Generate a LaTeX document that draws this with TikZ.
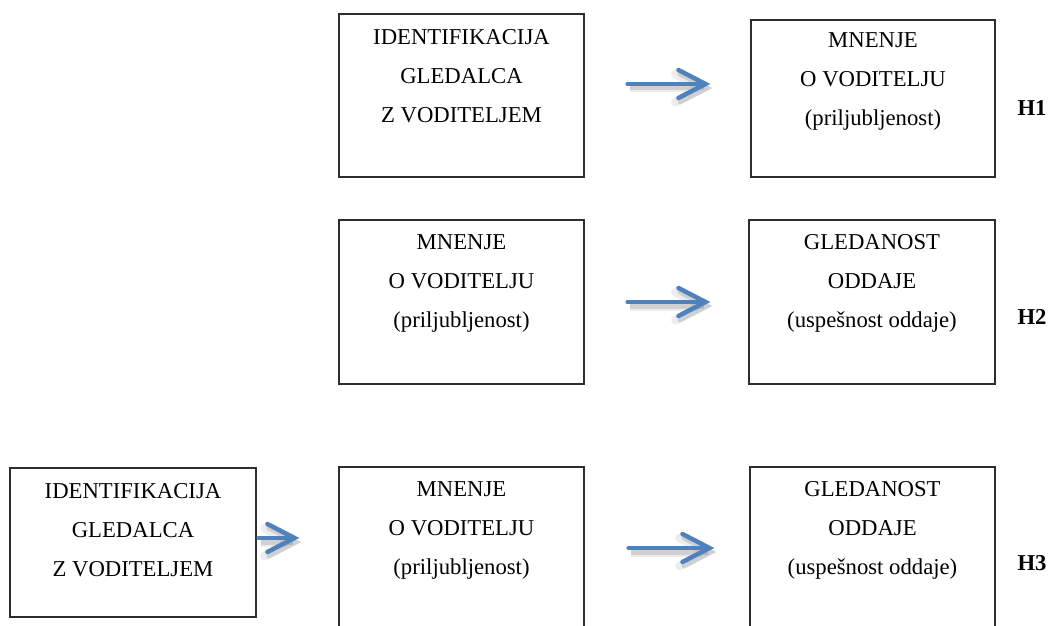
\documentclass[tikz,border=0pt]{standalone}
\usepackage{fontspec}
\setmainfont{Liberation Serif}
\usetikzlibrary{arrows.meta,calc}
\definecolor{arrblue}{RGB}{79,129,189}
\definecolor{boxline}{RGB}{45,45,45}
\tikzset{
  box/.style={draw=boxline, line width=1.3pt, rectangle, inner sep=0pt, fill=white},
  boxtext/.style={anchor=north, inner sep=0pt, align=center, font=\fontsize{22.7}{39}\selectfont, text=black},
  hlab/.style={inner sep=0pt, font=\fontsize{22.7}{26}\selectfont\bfseries, text=black},
  arr/.style={draw=arrblue, line width=4.5pt, line cap=round,
    -{Straight Barb[length=27pt,width=28pt,line cap=round]},
    preaction={draw=black, opacity=0.07, line width=9pt, transform canvas={shift={(2pt,-4pt)}}},
    preaction={draw=black, opacity=0.12, line width=5pt, transform canvas={shift={(2pt,-4pt)}}}}
}
\begin{document}
\begin{tikzpicture}[x=1pt,y=-1pt]
\path[use as bounding box] (0,0) rectangle (1050,626);
\clip (0,0) rectangle (1050,626);
\fill[white] (0,0) rectangle (1050,626);

% Row 1
\node[box, minimum width=245pt, minimum height=163pt] (A1) at (461.5,95.5) {};
\node[box, minimum width=244pt, minimum height=157pt] (B1) at (873,98.5) {};
\node[boxtext] (tA1) at ($(A1.north)+(0,16)$) {IDENTIFIKACIJA\\GLEDALCA\\Z VODITELJEM};
\node[boxtext] (tB1) at ($(B1.north)+(0,13)$) {MNENJE\\O VODITELJU\\(priljubljenost)};
\node[hlab] (H1) at (1032,108) {H1};
\draw[arr] ($(A1.east)+(43,-11.5)$) -- ($(B1.west)+(-40,-14.5)$);

% Row 2
\node[box, minimum width=245pt, minimum height=164pt] (A2) at (461.5,302) {};
\node[box, minimum width=246pt, minimum height=164pt] (B2) at (872,302) {};
\node[boxtext] (tA2) at ($(A2.north)+(0,15)$) {MNENJE\\O VODITELJU\\(priljubljenost)};
\node[boxtext] (tB2) at ($(B2.north)+(0,15)$) {GLEDANOST\\ODDAJE\\(uspešnost oddaje)};
\node[hlab] (H2) at (1032,317) {H2};
\draw[arr] ($(A2.east)+(43,0)$) -- ($(B2.west)+(-38,0)$);

% Row 3
\node[box, minimum width=246pt, minimum height=149pt] (L3) at (133,542.5) {};
\node[box, minimum width=245pt, minimum height=173pt] (A3) at (461.5,553.5) {};
\node[box, minimum width=245pt, minimum height=173pt] (B3) at (872.5,553.5) {};
\node[boxtext] (tL3) at ($(L3.north)+(0,15.5)$) {IDENTIFIKACIJA\\GLEDALCA\\Z VODITELJEM};
\node[boxtext] (tA3) at ($(A3.north)+(0,15)$) {MNENJE\\O VODITELJU\\(priljubljenost)};
\node[boxtext] (tB3) at ($(B3.north)+(0,15)$) {GLEDANOST\\ODDAJE\\(uspešnost oddaje)};
\node[hlab] (H3) at (1032,563) {H3};
\draw[arr] ($(L3.east)+(2,-4.5)$) -- ($(A3.west)+(-39,-15.5)$);
\draw[arr] ($(A3.east)+(44,-5.5)$) -- ($(B3.west)+(-35,-5.5)$);
\end{tikzpicture}
\end{document}
